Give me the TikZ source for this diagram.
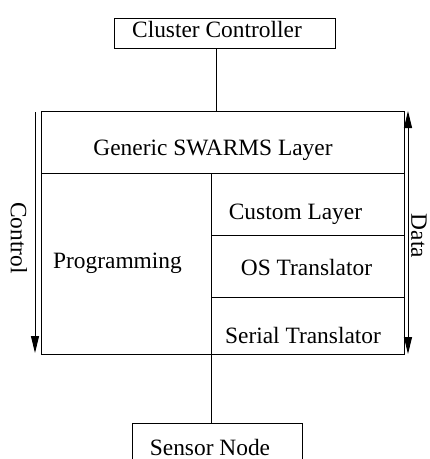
\documentclass[tikz,border=0pt]{standalone}
\usepackage{fontspec}
\setmainfont{Liberation Serif}
\usetikzlibrary{arrows.meta}
\begin{document}
\begin{tikzpicture}[x=1pt,y=-1pt, line width=0.9pt,
  every node/.style={font=\fontsize{23.4}{28}\selectfont, inner sep=0pt},
  frame/.style={draw, rectangle, inner sep=0pt},
  lbl/.style={anchor=base},
  downtip/.style={-{Triangle[length=17pt,width=8pt]}},
  bothtip/.style={{Triangle[length=17pt,width=8pt]}-{Triangle[length=17pt,width=8pt]}}]
\useasboundingbox (0,0) rectangle (430,459);
\clip (0,0) rectangle (430,459);
% boxes
\node[frame, minimum width=221pt, minimum height=30pt] (cc) at (224.5,33) {};
\node[frame, minimum width=363pt, minimum height=62pt] (generic) at (222.5,142) {};
\node[frame, minimum width=170pt, minimum height=181pt] (prog) at (126,263.5) {};
\node[frame, minimum width=193pt, minimum height=62pt] (custom) at (307.5,204) {};
\node[frame, minimum width=193pt, minimum height=62pt] (os) at (307.5,266) {};
\node[frame, minimum width=193pt, minimum height=57pt] (serial) at (307.5,325.5) {};
\node[frame, minimum width=170pt, minimum height=60pt, anchor=north] (sensor) at (217,423) {};
% texts
\node[lbl] (tcc) at (217,37) {Cluster Controller};
\node[lbl] (tgen) at (213,155) {Generic SWARMS Layer};
\node[lbl] (tprog) at (117.5,268) {Programming};
\node[lbl] (tcus) at (295.5,219) {Custom Layer};
\node[lbl] (tos) at (306.5,275) {OS Translator};
\node[lbl] (tser) at (303,343) {Serial Translator};
\node[lbl] (tsen) at (210,455) {Sensor Node};
\node[rotate=-90] (tctl) at (19,238) {Control};
\node[rotate=-90] (tdata) at (419,236) {Data};
% connectors
\draw ([xshift=-8.5pt]cc.south) -- ([xshift=-6.5pt]generic.north);
\draw (prog.south east) -- (prog.south east |- sensor.north);
% arrows
\coordinate (c1) at (35,112);
\coordinate (c2) at (35,353);
\coordinate (d1) at (408,111);
\coordinate (d2) at (408,354);
\draw[downtip] (c1) -- (c2);
\draw[bothtip] (d1) -- (d2);
\end{tikzpicture}
\end{document}
